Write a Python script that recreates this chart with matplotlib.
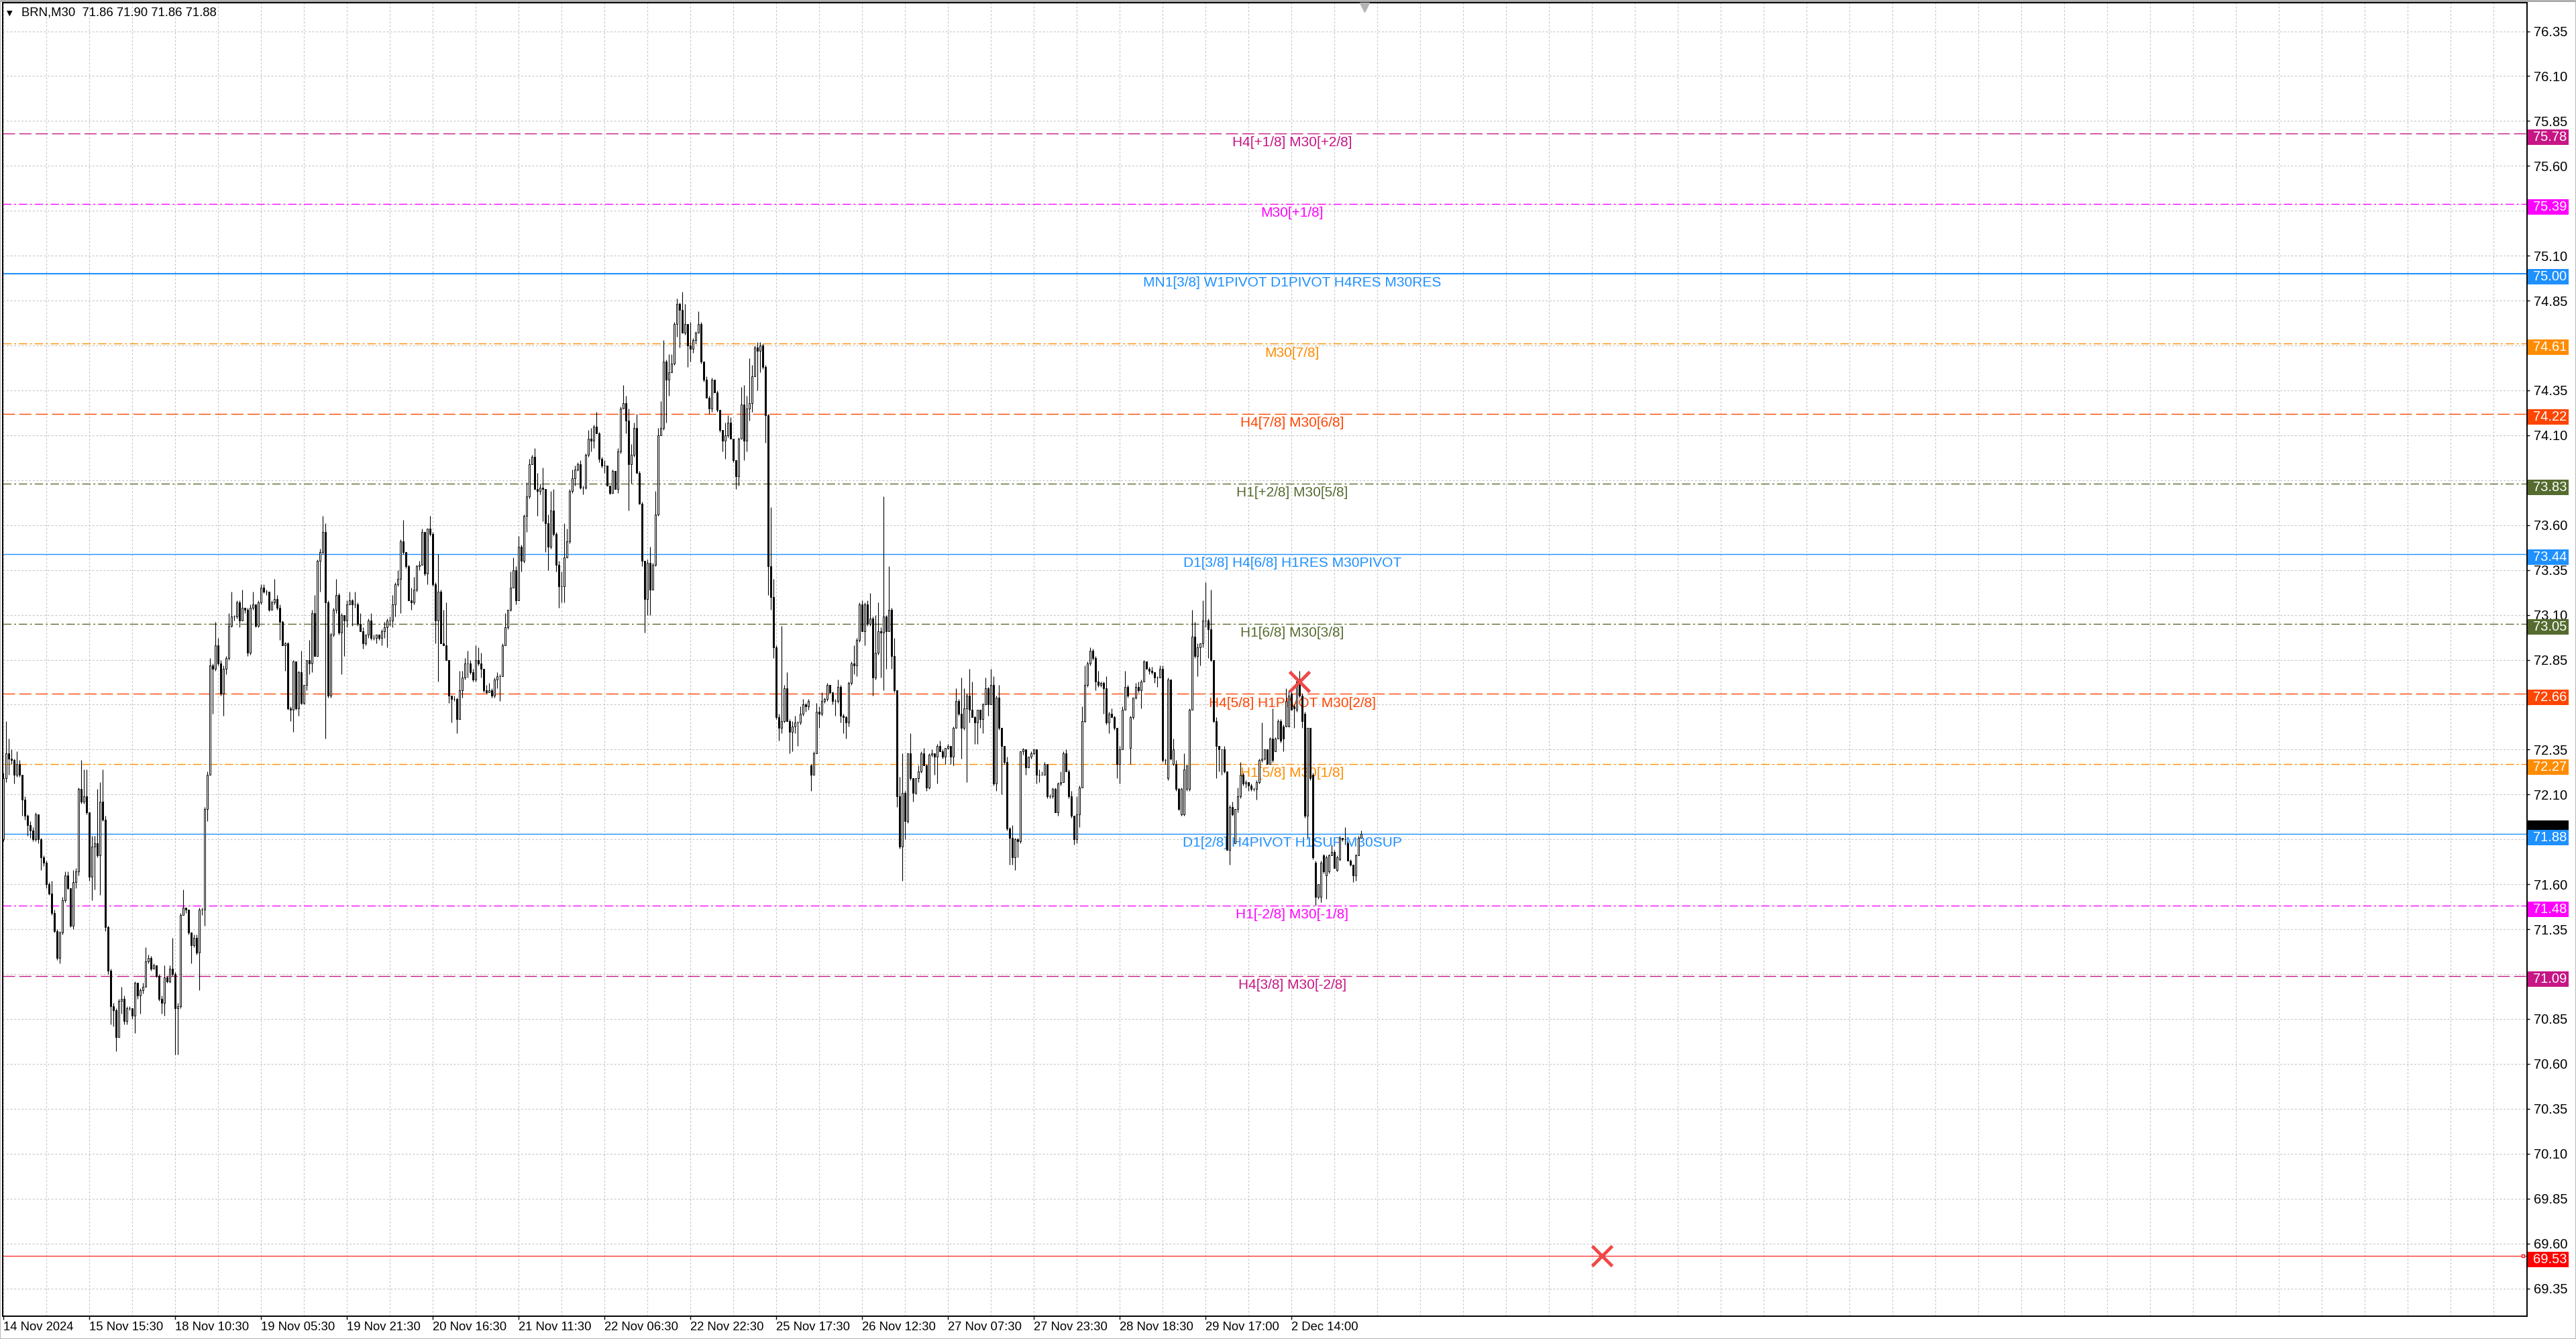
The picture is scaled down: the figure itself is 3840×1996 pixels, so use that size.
import numpy as np
import matplotlib
matplotlib.use("Agg")
import matplotlib.pyplot as plt
import matplotlib.transforms as mtransforms
from matplotlib.patches import Rectangle

plt.rcParams['font.family'] = ['Liberation Sans', 'DejaVu Sans']

# BRN M30 bars (open, high, low, close)
opens = [
    71.85, 72.19, 72.33, 72.30, 72.29, 72.21, 72.27, 72.21, 72.07, 71.98,
    71.93, 71.90, 71.85, 71.99, 71.85, 71.75, 71.72, 71.60, 71.55, 71.44,
    71.34, 71.19, 71.33, 71.51, 71.65, 71.58, 71.37, 71.61, 71.67, 72.13,
    72.06, 72.09, 72.00, 71.64, 71.81, 71.83, 71.76, 72.06, 71.96, 71.36,
    71.12, 70.92, 70.90, 70.75, 70.95, 70.96, 70.84, 70.91, 70.91, 70.87,
    71.05, 70.98, 71.01, 71.03, 71.17, 71.19, 71.13, 71.15, 71.09, 70.96,
    70.94, 71.08, 71.06, 71.13, 71.10, 70.91, 70.92, 71.43, 71.47, 71.46,
    71.33, 71.26, 71.30, 71.22, 71.46, 71.46, 72.02, 72.21, 72.82, 72.80,
    72.93, 72.83, 72.66, 72.80, 72.86, 73.04, 73.09, 73.09, 73.17, 73.07,
    73.14, 73.13, 72.89, 73.14, 73.16, 73.04, 73.17, 73.25, 73.23, 73.23,
    73.13, 73.17, 73.19, 73.14, 73.06, 72.93, 72.94, 72.58, 72.57, 72.84,
    72.58, 72.78, 72.61, 72.71, 72.85, 72.83, 73.11, 72.87, 73.40, 73.45,
    73.56, 73.17, 72.65, 72.99, 73.13, 73.21, 73.00, 73.10, 73.07, 73.16,
    73.18, 73.16, 73.16, 73.05, 73.01, 72.94, 72.99, 73.07, 72.97, 72.97,
    72.99, 72.97, 73.01, 73.03, 73.07, 73.07, 73.16, 73.27, 73.30, 73.51,
    73.45, 73.37, 73.18, 73.17, 73.24, 73.37, 73.38, 73.56, 73.33, 73.58,
    73.55, 73.27, 73.07, 73.23, 72.94, 72.93, 72.85, 72.65, 72.63, 72.63,
    72.52, 72.68, 72.75, 72.83, 72.83, 72.78, 72.74, 72.85, 72.83, 72.80,
    72.68, 72.67, 72.68, 72.65, 72.74, 72.76, 72.76, 72.93, 73.03, 73.13,
    73.25, 73.35, 73.18, 73.48, 73.40, 73.65, 73.76, 73.94, 73.98, 73.80,
    73.79, 73.81, 73.80, 73.61, 73.48, 73.68, 73.55, 73.38, 73.26, 73.26,
    73.42, 73.51, 73.79, 73.86, 73.91, 73.94, 73.81, 73.81, 73.99, 74.08,
    74.07, 74.15, 74.11, 73.97, 73.93, 73.93, 73.82, 73.78, 73.90, 73.80,
    74.01, 74.25, 74.28, 74.18, 73.94, 73.99, 74.14, 73.89, 73.72, 73.40,
    73.19, 73.39, 73.24, 73.38, 73.66, 74.10, 74.14, 74.51, 74.41, 74.45,
    74.50, 74.72, 74.83, 74.80, 74.67, 74.72, 74.60, 74.58, 74.63, 74.67,
    74.72, 74.51, 74.41, 74.31, 74.25, 74.41, 74.34, 74.24, 74.13, 74.07,
    74.10, 74.17, 74.08, 73.96, 73.87, 74.08, 74.27, 74.07, 74.25, 74.28,
    74.43, 74.59, 74.57, 74.60, 74.48, 74.21, 73.37, 73.20, 72.92, 72.53,
    72.47, 72.51, 72.69, 72.51, 72.45, 72.48, 72.50, 72.50, 72.55, 72.60,
    72.59, 72.26, 72.21, 72.33, 72.56, 72.55, 72.62, 72.63, 72.71, 72.67,
    72.62, 72.62, 72.70, 72.54, 72.53, 72.50, 72.72, 72.83, 72.82, 72.96,
    73.16, 73.01, 73.16, 73.05, 73.08, 72.75, 72.89, 73.01, 73.00, 73.09,
    73.01, 73.13, 72.87, 72.68, 72.09, 71.81, 72.11, 71.95, 72.33, 72.19,
    72.11, 72.19, 72.23, 72.33, 72.26, 72.14, 72.32, 72.33, 72.31, 72.37,
    72.34, 72.31, 72.36, 72.37, 72.31, 72.47, 72.62, 72.55, 72.47, 72.58,
    72.65, 72.57, 72.53, 72.50, 72.57, 72.52, 72.60, 72.69, 72.60, 72.71,
    72.16, 72.64, 72.47, 72.37, 72.28, 71.91, 71.86, 71.75, 71.85, 71.84,
    72.34, 72.35, 72.25, 72.31, 72.33, 72.35, 72.21, 72.21, 72.21, 72.27,
    72.09, 72.09, 72.13, 72.00, 72.16, 72.17, 72.33, 72.23, 72.09, 71.98,
    71.85, 71.99, 72.14, 72.51, 72.71, 72.83, 72.90, 72.86, 72.73, 72.71,
    72.72, 72.69, 72.50, 72.55, 72.53, 72.47, 72.27, 72.35, 72.57, 72.70,
    72.36, 72.53, 72.64, 72.70, 72.68, 72.73, 72.84, 72.80, 72.79, 72.78,
    72.75, 72.75, 72.80, 72.29, 72.19, 72.74, 72.27, 72.27, 72.13, 71.99,
    71.99, 72.13, 72.13, 72.57, 72.98, 72.87, 72.92, 72.94, 73.07, 73.07,
    73.02, 72.85, 72.51, 72.37, 72.35, 72.35, 72.23, 71.79, 72.03, 71.83,
    72.02, 72.09, 72.21, 72.16, 72.17, 72.15, 72.13, 72.13, 72.17, 72.29,
    72.30, 72.35, 72.27, 72.41, 72.34, 72.41, 72.51, 72.48, 72.48, 72.48,
    72.66, 72.59, 72.57, 72.71, 72.65, 72.55, 71.98, 72.47, 72.21, 71.72,
    71.53, 71.53, 71.76, 71.65, 71.67, 71.76, 71.78, 71.68, 71.74, 71.86,
    71.85, 71.83, 71.73, 71.71, 71.65, 71.76, 71.86,
]
highs = [
    72.22, 72.51, 72.41, 72.35, 72.30, 72.34, 72.29, 72.21, 72.09, 71.99,
    71.95, 71.92, 72.00, 71.99, 71.86, 71.76, 71.73, 71.61, 71.62, 71.46,
    71.35, 71.34, 71.53, 71.67, 71.67, 71.58, 71.68, 71.69, 72.14, 72.29,
    72.24, 72.24, 72.00, 71.87, 71.87, 72.13, 72.17, 72.24, 71.98, 71.37,
    71.13, 70.94, 70.91, 70.96, 71.03, 70.98, 70.92, 70.92, 70.91, 71.06,
    71.05, 71.02, 71.05, 71.25, 71.21, 71.20, 71.16, 71.15, 71.10, 70.98,
    71.15, 71.09, 71.15, 71.30, 71.11, 70.94, 71.44, 71.57, 71.47, 71.46,
    71.33, 71.32, 71.32, 71.47, 71.47, 72.03, 72.23, 72.86, 72.83, 73.06,
    72.97, 72.85, 72.82, 72.87, 73.11, 73.23, 73.10, 73.18, 73.18, 73.24,
    73.14, 73.14, 73.16, 73.23, 73.16, 73.18, 73.27, 73.27, 73.24, 73.23,
    73.18, 73.30, 73.21, 73.16, 73.07, 72.95, 72.95, 72.59, 72.85, 72.84,
    72.79, 72.90, 72.71, 72.85, 72.96, 73.13, 73.21, 73.41, 73.47, 73.65,
    73.61, 73.18, 73.00, 73.14, 73.30, 73.22, 73.11, 73.10, 73.18, 73.23,
    73.19, 73.23, 73.17, 73.11, 73.03, 72.99, 73.08, 73.11, 72.99, 72.99,
    72.99, 73.02, 73.06, 73.08, 73.09, 73.21, 73.28, 73.35, 73.52, 73.63,
    73.45, 73.38, 73.25, 73.31, 73.38, 73.40, 73.58, 73.56, 73.58, 73.65,
    73.56, 73.28, 73.44, 73.24, 73.13, 73.17, 72.85, 72.65, 72.65, 72.64,
    72.79, 72.79, 72.86, 72.90, 72.85, 72.80, 72.93, 72.92, 72.89, 72.80,
    72.71, 72.72, 72.69, 72.75, 72.78, 72.77, 72.94, 73.11, 73.13, 73.34,
    73.42, 73.37, 73.54, 73.49, 73.66, 73.84, 73.97, 73.99, 74.03, 73.89,
    73.83, 73.92, 73.80, 73.66, 73.79, 73.80, 73.56, 73.40, 73.34, 73.61,
    73.58, 73.80, 73.91, 73.93, 73.95, 73.96, 73.82, 74.00, 74.13, 74.14,
    74.16, 74.23, 74.12, 73.98, 73.96, 73.93, 73.82, 73.91, 73.90, 74.03,
    74.26, 74.38, 74.32, 74.25, 74.05, 74.17, 74.22, 73.90, 73.73, 73.40,
    73.41, 73.48, 73.39, 73.79, 74.14, 74.29, 74.63, 74.52, 74.55, 74.55,
    74.73, 74.86, 74.84, 74.90, 74.83, 74.72, 74.73, 74.64, 74.68, 74.79,
    74.73, 74.51, 74.43, 74.32, 74.42, 74.41, 74.35, 74.24, 74.13, 74.17,
    74.21, 74.20, 74.08, 73.96, 74.09, 74.37, 74.38, 74.32, 74.53, 74.49,
    74.60, 74.62, 74.62, 74.61, 74.49, 74.22, 73.70, 73.30, 72.93, 72.55,
    73.04, 72.71, 72.78, 72.52, 72.51, 72.54, 72.51, 72.59, 72.63, 72.61,
    72.63, 72.27, 72.34, 72.61, 72.59, 72.67, 72.64, 72.72, 72.71, 72.67,
    72.63, 72.74, 72.71, 72.55, 72.54, 72.73, 72.84, 72.93, 72.97, 73.17,
    73.18, 73.17, 73.18, 73.22, 73.09, 73.10, 73.17, 73.03, 73.76, 73.10,
    73.37, 73.14, 72.97, 72.68, 72.20, 72.33, 72.12, 72.33, 72.44, 72.19,
    72.19, 72.26, 72.34, 72.36, 72.27, 72.33, 72.35, 72.33, 72.38, 72.40,
    72.35, 72.36, 72.38, 72.37, 72.48, 72.69, 72.63, 72.75, 72.69, 72.66,
    72.80, 72.73, 72.54, 72.57, 72.57, 72.61, 72.75, 72.70, 72.80, 72.76,
    72.65, 72.71, 72.47, 72.37, 72.31, 71.92, 71.93, 71.86, 71.86, 72.34,
    72.36, 72.35, 72.31, 72.34, 72.35, 72.35, 72.24, 72.23, 72.28, 72.27,
    72.10, 72.14, 72.14, 72.17, 72.23, 72.34, 72.35, 72.24, 72.12, 71.98,
    72.09, 72.15, 72.59, 72.82, 72.84, 72.92, 72.91, 72.87, 72.79, 72.73,
    72.73, 72.76, 72.56, 72.58, 72.54, 72.47, 72.37, 72.59, 72.79, 72.71,
    72.54, 72.64, 72.72, 72.73, 72.74, 72.85, 72.84, 72.81, 72.81, 72.78,
    72.76, 72.82, 72.82, 72.30, 72.75, 72.74, 72.41, 72.29, 72.14, 72.14,
    72.33, 72.26, 72.58, 73.13, 73.06, 72.94, 72.94, 73.18, 73.28, 73.08,
    73.24, 72.85, 72.53, 72.37, 72.35, 72.37, 72.23, 72.04, 72.06, 72.02,
    72.14, 72.28, 72.22, 72.18, 72.17, 72.16, 72.14, 72.18, 72.30, 72.50,
    72.35, 72.35, 72.42, 72.58, 72.42, 72.52, 72.52, 72.49, 72.69, 72.68,
    72.67, 72.60, 72.74, 72.79, 72.66, 72.56, 72.47, 72.47, 72.22, 71.73,
    71.60, 71.73, 71.77, 71.76, 71.77, 71.82, 71.79, 71.76, 71.87, 71.86,
    71.92, 71.84, 71.74, 71.71, 71.77, 71.87, 71.90,
]
lows = [
    71.84, 72.17, 72.21, 72.27, 72.16, 72.20, 72.20, 71.98, 71.96, 71.87,
    71.86, 71.84, 71.84, 71.83, 71.68, 71.70, 71.58, 71.54, 71.43, 71.33,
    71.18, 71.16, 71.32, 71.50, 71.57, 71.36, 71.35, 71.58, 71.65, 72.05,
    72.05, 71.99, 71.62, 71.51, 71.57, 71.75, 71.54, 71.95, 71.34, 71.10,
    70.82, 70.81, 70.67, 70.75, 70.88, 70.82, 70.82, 70.90, 70.85, 70.77,
    70.96, 70.88, 70.99, 71.03, 71.16, 71.12, 71.13, 71.08, 70.95, 70.88,
    70.87, 71.05, 71.05, 71.09, 70.65, 70.65, 70.91, 71.43, 71.44, 71.32,
    71.16, 71.25, 71.21, 71.01, 71.43, 71.37, 71.95, 72.21, 72.55, 72.79,
    72.82, 72.65, 72.54, 72.77, 72.85, 73.03, 73.07, 73.08, 73.03, 73.07,
    73.11, 72.87, 72.88, 73.13, 73.03, 73.03, 73.16, 73.22, 73.21, 73.12,
    73.13, 73.16, 73.13, 72.96, 72.93, 72.79, 72.57, 72.51, 72.45, 72.57,
    72.54, 72.60, 72.60, 72.68, 72.77, 72.78, 72.87, 72.87, 73.23, 73.44,
    72.41, 72.64, 72.64, 72.98, 73.11, 72.99, 72.77, 72.87, 73.03, 73.16,
    73.04, 73.14, 73.04, 73.01, 72.91, 72.93, 72.97, 72.96, 72.96, 72.94,
    72.96, 72.93, 72.97, 72.92, 73.04, 73.03, 73.09, 73.26, 73.11, 73.44,
    73.36, 73.18, 73.13, 73.16, 73.23, 73.35, 73.38, 73.32, 73.27, 73.54,
    73.26, 72.94, 72.73, 72.94, 72.93, 72.85, 72.61, 72.50, 72.62, 72.44,
    72.52, 72.64, 72.74, 72.75, 72.77, 72.73, 72.73, 72.82, 72.75, 72.67,
    72.66, 72.67, 72.64, 72.64, 72.69, 72.62, 72.76, 72.93, 73.02, 73.12,
    73.25, 73.16, 73.18, 73.34, 73.39, 73.56, 73.75, 73.94, 73.80, 73.65,
    73.77, 73.62, 73.45, 73.35, 73.47, 73.54, 73.34, 73.14, 73.17, 73.17,
    73.42, 73.50, 73.78, 73.82, 73.90, 73.80, 73.77, 73.80, 73.98, 74.01,
    74.03, 74.11, 73.95, 73.92, 73.89, 73.82, 73.77, 73.78, 73.80, 73.78,
    74.00, 74.25, 74.11, 73.68, 73.83, 73.98, 73.89, 73.72, 73.37, 73.00,
    73.10, 73.10, 73.24, 73.37, 73.65, 74.10, 74.13, 74.17, 74.32, 74.45,
    74.49, 74.65, 74.59, 74.67, 74.66, 74.48, 74.51, 74.56, 74.61, 74.67,
    74.50, 74.40, 74.31, 74.22, 74.23, 74.34, 74.23, 74.12, 74.01, 73.97,
    74.09, 74.08, 73.95, 73.80, 73.82, 74.08, 73.96, 74.01, 74.18, 74.23,
    74.43, 74.35, 74.45, 74.47, 74.06, 73.21, 73.13, 72.86, 72.52, 72.40,
    72.44, 72.50, 72.51, 72.33, 72.34, 72.44, 72.37, 72.49, 72.54, 72.56,
    72.57, 72.12, 72.21, 72.33, 72.47, 72.54, 72.61, 72.62, 72.66, 72.60,
    72.54, 72.61, 72.50, 72.44, 72.41, 72.48, 72.71, 72.77, 72.76, 72.95,
    73.01, 72.93, 73.04, 73.04, 72.65, 72.74, 72.88, 72.75, 72.68, 72.80,
    73.01, 72.80, 72.67, 72.03, 71.80, 71.62, 71.85, 71.94, 72.18, 72.06,
    72.10, 72.17, 72.22, 72.26, 72.12, 72.13, 72.31, 72.21, 72.16, 72.34,
    72.30, 72.27, 72.35, 72.27, 72.26, 72.47, 72.54, 72.30, 72.46, 72.17,
    72.50, 72.53, 72.38, 72.38, 72.47, 72.44, 72.60, 72.54, 72.60, 72.15,
    72.12, 72.46, 72.10, 72.27, 71.90, 71.71, 71.71, 71.68, 71.75, 71.83,
    72.32, 72.21, 72.25, 72.30, 72.32, 72.16, 72.17, 72.21, 72.21, 72.08,
    72.08, 72.08, 72.00, 71.98, 72.15, 72.17, 72.23, 72.08, 71.97, 71.82,
    71.83, 71.92, 72.14, 72.50, 72.70, 72.82, 72.85, 72.68, 72.70, 72.70,
    72.55, 72.49, 72.44, 72.53, 72.46, 72.19, 72.16, 72.35, 72.57, 72.64,
    72.27, 72.52, 72.63, 72.67, 72.58, 72.73, 72.80, 72.77, 72.77, 72.72,
    72.70, 72.75, 72.28, 72.27, 72.18, 72.29, 72.26, 72.12, 72.01, 71.98,
    71.98, 72.12, 72.12, 72.57, 72.86, 72.76, 72.82, 72.92, 73.03, 72.86,
    72.84, 72.50, 72.19, 72.23, 72.21, 72.22, 71.79, 71.71, 71.98, 71.83,
    72.00, 72.08, 72.15, 72.14, 72.12, 72.12, 72.12, 72.07, 72.16, 72.28,
    72.29, 72.27, 72.27, 72.28, 72.34, 72.41, 72.39, 72.34, 72.48, 72.48,
    72.57, 72.47, 72.56, 72.64, 72.47, 71.97, 71.86, 72.18, 71.74, 71.48,
    71.52, 71.50, 71.66, 71.52, 71.66, 71.76, 71.69, 71.67, 71.73, 71.84,
    71.82, 71.73, 71.70, 71.61, 71.62, 71.76, 71.86,
]
closes = [
    72.19, 72.33, 72.30, 72.29, 72.21, 72.27, 72.21, 72.07, 71.98, 71.93,
    71.90, 71.85, 71.99, 71.85, 71.75, 71.72, 71.60, 71.55, 71.44, 71.34,
    71.19, 71.33, 71.51, 71.65, 71.58, 71.37, 71.61, 71.67, 72.13, 72.06,
    72.09, 72.00, 71.64, 71.81, 71.83, 71.76, 72.06, 71.96, 71.36, 71.12,
    70.92, 70.90, 70.75, 70.95, 70.96, 70.84, 70.91, 70.91, 70.87, 71.05,
    70.98, 71.01, 71.03, 71.17, 71.19, 71.13, 71.15, 71.09, 70.96, 70.94,
    71.08, 71.06, 71.13, 71.10, 70.91, 70.92, 71.43, 71.47, 71.46, 71.33,
    71.26, 71.30, 71.22, 71.46, 71.46, 72.02, 72.21, 72.82, 72.80, 72.93,
    72.83, 72.66, 72.80, 72.86, 73.04, 73.09, 73.09, 73.17, 73.07, 73.14,
    73.13, 72.89, 73.14, 73.16, 73.04, 73.17, 73.25, 73.23, 73.23, 73.13,
    73.17, 73.19, 73.14, 73.06, 72.93, 72.94, 72.58, 72.57, 72.84, 72.58,
    72.78, 72.61, 72.71, 72.85, 72.83, 73.11, 72.87, 73.40, 73.45, 73.56,
    73.17, 72.65, 72.99, 73.13, 73.21, 73.00, 73.10, 73.07, 73.16, 73.18,
    73.16, 73.16, 73.05, 73.01, 72.94, 72.99, 73.07, 72.97, 72.97, 72.99,
    72.97, 73.01, 73.03, 73.07, 73.07, 73.16, 73.27, 73.30, 73.51, 73.45,
    73.37, 73.18, 73.17, 73.24, 73.37, 73.38, 73.56, 73.33, 73.58, 73.55,
    73.27, 73.07, 73.23, 72.94, 72.93, 72.85, 72.65, 72.63, 72.63, 72.52,
    72.68, 72.75, 72.83, 72.83, 72.78, 72.74, 72.85, 72.83, 72.80, 72.68,
    72.67, 72.68, 72.65, 72.74, 72.76, 72.76, 72.93, 73.03, 73.13, 73.25,
    73.35, 73.18, 73.48, 73.40, 73.65, 73.76, 73.94, 73.98, 73.80, 73.79,
    73.81, 73.80, 73.61, 73.48, 73.68, 73.55, 73.38, 73.26, 73.26, 73.42,
    73.51, 73.79, 73.86, 73.91, 73.94, 73.81, 73.81, 73.99, 74.08, 74.07,
    74.15, 74.11, 73.97, 73.93, 73.93, 73.82, 73.78, 73.90, 73.80, 74.01,
    74.25, 74.28, 74.18, 73.94, 73.99, 74.14, 73.89, 73.72, 73.40, 73.19,
    73.39, 73.24, 73.38, 73.66, 74.10, 74.14, 74.51, 74.41, 74.45, 74.50,
    74.72, 74.83, 74.80, 74.67, 74.72, 74.60, 74.58, 74.63, 74.67, 74.72,
    74.51, 74.41, 74.31, 74.25, 74.41, 74.34, 74.24, 74.13, 74.07, 74.10,
    74.17, 74.08, 73.96, 73.87, 74.08, 74.27, 74.07, 74.25, 74.28, 74.43,
    74.59, 74.57, 74.60, 74.48, 74.21, 73.37, 73.20, 72.92, 72.53, 72.47,
    72.51, 72.69, 72.51, 72.45, 72.48, 72.50, 72.50, 72.55, 72.60, 72.59,
    72.62, 72.21, 72.33, 72.56, 72.55, 72.62, 72.63, 72.71, 72.67, 72.62,
    72.62, 72.70, 72.54, 72.53, 72.50, 72.72, 72.83, 72.82, 72.96, 73.16,
    73.01, 73.16, 73.05, 73.08, 72.75, 72.89, 73.01, 73.00, 73.09, 73.01,
    73.13, 72.87, 72.68, 72.09, 71.81, 72.11, 71.95, 72.33, 72.19, 72.11,
    72.19, 72.23, 72.33, 72.26, 72.14, 72.32, 72.33, 72.31, 72.37, 72.34,
    72.31, 72.36, 72.37, 72.31, 72.47, 72.62, 72.55, 72.47, 72.58, 72.65,
    72.57, 72.53, 72.50, 72.57, 72.52, 72.60, 72.69, 72.60, 72.71, 72.16,
    72.64, 72.47, 72.37, 72.28, 71.91, 71.86, 71.75, 71.85, 71.84, 72.34,
    72.35, 72.25, 72.31, 72.33, 72.35, 72.21, 72.21, 72.21, 72.27, 72.09,
    72.09, 72.13, 72.00, 72.16, 72.17, 72.33, 72.23, 72.09, 71.98, 71.85,
    71.99, 72.14, 72.51, 72.71, 72.83, 72.90, 72.86, 72.73, 72.71, 72.72,
    72.69, 72.50, 72.55, 72.53, 72.47, 72.27, 72.35, 72.57, 72.70, 72.65,
    72.53, 72.64, 72.70, 72.68, 72.73, 72.84, 72.80, 72.79, 72.78, 72.75,
    72.75, 72.80, 72.29, 72.29, 72.74, 72.30, 72.35, 72.13, 72.02, 72.13,
    72.24, 72.26, 72.57, 72.98, 72.87, 72.92, 72.94, 73.07, 73.07, 73.02,
    72.85, 72.51, 72.37, 72.35, 72.35, 72.23, 71.79, 72.03, 71.99, 72.02,
    72.09, 72.21, 72.16, 72.17, 72.15, 72.13, 72.13, 72.17, 72.29, 72.30,
    72.35, 72.27, 72.41, 72.29, 72.41, 72.51, 72.40, 72.41, 72.62, 72.65,
    72.57, 72.58, 72.73, 72.65, 72.51, 71.98, 72.47, 72.19, 71.75, 71.53,
    71.60, 71.72, 71.67, 71.75, 71.76, 71.78, 71.69, 71.75, 71.86, 71.85,
    71.85, 71.73, 71.71, 71.65, 71.76, 71.86, 71.88,
]

# horizontal levels drawn by the indicator
level_prices = [75.78, 75.39, 75.00, 74.61, 74.22, 73.83, 73.44, 73.05,
                72.66, 72.27, 71.88, 71.48, 71.09]
level_labels = [
    "H4[+1/8] M30[+2/8]",
    "M30[+1/8]",
    "MN1[3/8] W1PIVOT D1PIVOT H4RES M30RES",
    "M30[7/8]",
    "H4[7/8] M30[6/8]",
    "H1[+2/8] M30[5/8]",
    "D1[3/8] H4[6/8] H1RES M30PIVOT",
    "H1[6/8] M30[3/8]",
    "H4[5/8] H1PIVOT M30[2/8]",
    "H1[5/8] M30[1/8]",
    "D1[2/8] H4PIVOT H1SUP M30SUP",
    "H1[-2/8] M30[-1/8]",
    "H4[3/8] M30[-2/8]",
]
level_colors = ['#C71585', '#FF00FF', '#1E90FF', '#FF8C00', '#FF4500',
                '#556B2F', '#1E90FF', '#556B2F', '#FF4500', '#FF8C00',
                '#1E90FF', '#FF00FF', '#C71585']
level_kinds = ['dash', 'dashdot', 'solid', 'dashdot', 'dash', 'dashdot',
               'solid', 'dashdot', 'dash', 'dashdot', 'solid', 'dashdot', 'dash']

stop_price = 69.53
signal_bars = [483, 595.7]
signal_prices = [72.73, 69.53]

tick_bars = list(range(0, 481, 32))
tick_labels = ["14 Nov 2024", "15 Nov 15:30", "18 Nov 10:30", "19 Nov 05:30",
               "19 Nov 21:30", "20 Nov 16:30", "21 Nov 11:30", "22 Nov 06:30",
               "22 Nov 22:30", "25 Nov 17:30", "26 Nov 12:30", "27 Nov 07:30",
               "27 Nov 23:30", "28 Nov 18:30", "29 Nov 17:00", "2 Dec 14:00"]

symbol = "BRN,M30"
last_ohlc = [71.86, 71.90, 71.86, 71.88]
bid = 71.88

# ---------------------------------------------------------------------------
W, H = 3840, 1996
PX_PER_PRICE = 267.7
n = min(len(opens), len(highs), len(lows), len(closes))
x = np.arange(n)
o = np.array(opens[:n])
c = np.array(closes[:n])
hi = np.maximum(np.array(highs[:n]), np.maximum(o, c))
lo = np.minimum(np.array(lows[:n]), np.minimum(o, c))

fig = plt.figure(figsize=(W / 100, H / 100), dpi=100)
fig.patch.set_facecolor('white')
ax = fig.add_axes([4 / W, 34 / H, 3763 / W, 1958 / H])
ax.set_facecolor('white')
ax.set_xlim(-0.33, 940.4)
ax.set_ylim(69.195, 76.509)

tag_h = 23 / PX_PER_PRICE
tag_shift = 5 / PX_PER_PRICE
tag_centers = [p - tag_shift for p in level_prices + [stop_price]]

# grid; price labels that sit under a price tag are left blank (hidden there too)
yt = np.round(np.arange(69.35, 76.36, 0.25), 2)
ax.set_yticks(yt)
ylabs = []
for v in yt:
    covered = any(abs(v - t) * PX_PER_PRICE < 11.5 for t in tag_centers)
    ylabs.append('' if covered else '%.2f' % v)
ax.set_yticklabels(ylabs)
ax.set_xticks(tick_bars)
ax.set_xticklabels(tick_labels)
ax.set_xticks(np.arange(0, 941, 16), minor=True)
for lab in ax.get_xticklabels():
    lab.set_horizontalalignment('left')
grid_kw = dict(color='#c4c4c4', linestyle=(0, (2.5, 2.5)), linewidth=0.8)
ax.grid(True, which='both', axis='x', **grid_kw)
ax.grid(True, which='major', axis='y', **grid_kw)
ax.set_axisbelow(True)

ax.yaxis.tick_right()
ax.tick_params(axis='y', which='major', length=3, width=1, pad=4.0,
               labelsize=14.5, colors='black')
ax.tick_params(axis='x', which='major', length=3.6, width=1, pad=2.2,
               labelsize=13.3, colors='black')
ax.tick_params(axis='x', which='minor', length=0)
for sp in ax.spines.values():
    sp.set_linewidth(1.4)
    sp.set_color('black')

# levels
styles = {'dash': (0, (13, 4.5)), 'dashdot': (0, (9, 3, 2, 3)), 'solid': '-'}
label_bar = 480.2
for p, lab, col, kind in zip(level_prices, level_labels, level_colors, level_kinds):
    lw = 1.5 if p == 75.00 else 1.0
    ax.axhline(p, color=col, linestyle=styles[kind], linewidth=lw, zorder=2)
    ax.annotate(lab, xy=(label_bar, p), xytext=(0, -3), textcoords='offset points',
                ha='center', va='top', color=col, fontsize=15, zorder=2.5)
ax.axhline(stop_price, color='#FF0000', linewidth=0.75, zorder=2)

# candles
ax.vlines(x, lo, hi, color='black', linewidth=0.8, zorder=3)
face = np.where(c > o, 'white', 'black')
ax.bar(x, np.abs(c - o), bottom=np.minimum(o, c), width=0.5, color=face,
       edgecolor='black', linewidth=0.7, zorder=4)

# signal crosses
ax.plot(signal_bars, signal_prices, linestyle='none', marker='x', markersize=22,
        markeredgewidth=3.5, color='#F04848', zorder=8)

# small square at the end of the stop line
tr_ax_data = mtransforms.blended_transform_factory(ax.transAxes, ax.transData)
ax.plot([0.9985], [stop_price], transform=tr_ax_data, marker='s', markersize=3.5,
        markerfacecolor='white', markeredgecolor='red', markeredgewidth=1,
        clip_on=False, zorder=8)

# chart shift triangle
tr_data_ax = mtransforms.blended_transform_factory(ax.transData, ax.transAxes)
ax.plot([507.2], [0.9965], transform=tr_data_ax, marker='v', markersize=10,
        color='#B4B4B4', clip_on=False, zorder=9)

# price tags on the right axis (drawn a few pixels below their level)
tf = mtransforms.blended_transform_factory(fig.transFigure, ax.transData)


def tag(p, col, show=True):
    yc = p - tag_shift
    ax.add_patch(Rectangle((3768 / W, yc - tag_h / 2), 61 / W, tag_h, transform=tf,
                           facecolor=col, edgecolor='none', clip_on=False, zorder=6))
    if show:
        ax.text(3776 / W, yc, '%.2f' % p, transform=tf,
                color='white', fontsize=14.5, ha='left', va='center',
                clip_on=False, zorder=7)


tag(bid + 0.05, 'black', show=False)
for p, col in zip(level_prices, level_colors):
    tag(p, col)
tag(stop_price, '#FF0000')

# header text
fig.text(10 / W, 1 - 20 / H, '\u25BC', fontsize=8, va='center', ha='left',
         family='DejaVu Sans')
fig.text(32 / W, 1 - 19.5 / H, '%s  %s' % (symbol, ' '.join('%.2f' % v for v in last_ohlc)),
         fontsize=13.3, va='center', ha='left', color='black')

# window frame
fig.add_artist(Rectangle((0, 1 - 3 / H), 1, 3 / H, transform=fig.transFigure,
                         facecolor='#A8A8A8', edgecolor='none'))
fig.add_artist(Rectangle((0, 0), 1, 1, transform=fig.transFigure, fill=False,
                         edgecolor='#B8B8B8', linewidth=1.5))

fig.savefig('out.png', dpi=100, facecolor='white')
